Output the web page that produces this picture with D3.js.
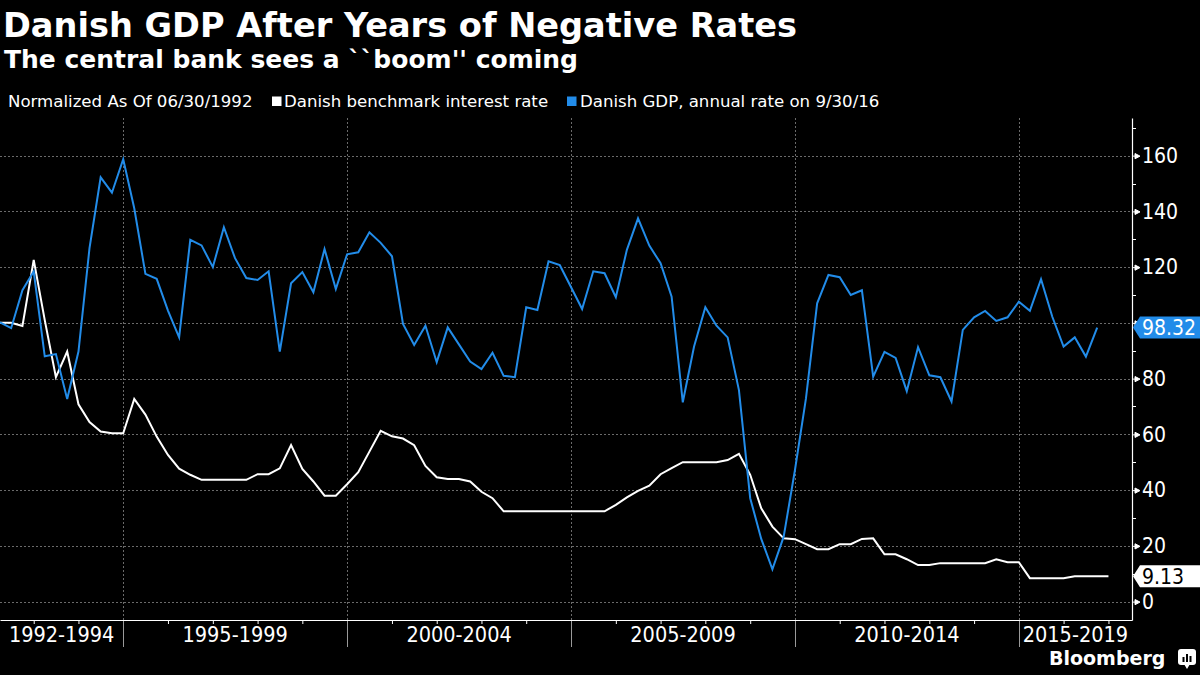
<!DOCTYPE html>
<html>
<head>
<meta charset="utf-8">
<script src="https://cdn.jsdelivr.net/npm/d3@7"></script>
<style>
  html, body { margin: 0; padding: 0; background: #000; }
  svg { display: block; }
</style>
</head>
<body>
<svg id="chart" width="1200" height="675"></svg>
<script>
// ---------------- DATA ----------------
const title = "Danish GDP After Years of Negative Rates";
const subtitle = "The central bank sees a ``boom'' coming";
const legendNote = "Normalized As Of 06/30/1992";
const seriesNames = ["Danish benchmark interest rate", "Danish GDP, annual rate on 9/30/16"];

// quarterly observations, first quarter = 1992 Q1
const firstQuarter = [1992, 1];

// Danish benchmark interest rate (normalized), 1992Q1 .. 2016Q4
const rateValues = [
  100.0, 100.0, 98.9, 122.6, 101.0, 80.5, 89.7, 70.8, 64.4, 61.0,
  60.4, 60.4, 72.7, 67.1, 59.2, 52.6, 47.7, 45.5, 43.7, 43.7,
  43.7, 43.7, 43.7, 45.7, 45.7, 47.8, 56.2, 47.6, 43.1, 38.0,
  38.0, 42.1, 46.4, 53.8, 61.3, 59.3, 58.5, 56.1, 48.7, 44.6,
  44.0, 44.0, 43.1, 39.4, 37.1, 32.4, 32.4, 32.4, 32.4, 32.4,
  32.4, 32.4, 32.4, 32.4, 32.4, 34.7, 37.4, 39.7, 41.6, 45.7,
  47.9, 50.0, 50.0, 50.0, 50.0, 50.8, 53.0, 45.5, 33.5, 26.9,
  22.7, 22.4, 20.6, 18.8, 18.8, 20.6, 20.6, 22.5, 22.7, 17.0,
  17.0, 15.2, 13.1, 13.1, 13.8, 13.8, 13.8, 13.8, 13.8, 15.2,
  14.1, 14.1, 8.4, 8.4, 8.4, 8.4, 9.13, 9.13, 9.13, 9.13
];

// Danish GDP, annual rate (normalized), 1992Q1 .. 2016Q3
const gdpValues = [
  100.2, 98.1, 111.7, 118.4, 88.0, 88.8, 72.7, 89.7, 126.8, 152.2,
  146.7, 158.7, 141.1, 117.6, 115.8, 104.4, 94.8, 129.8, 127.8, 120.0,
  134.3, 123.2, 116.1, 115.4, 118.5, 89.7, 114.2, 118.2, 111.0, 126.5,
  112.1, 124.6, 125.3, 132.5, 128.7, 123.9, 99.6, 92.1, 99.0, 85.9,
  98.4, 92.3, 86.1, 83.4, 89.3, 81.0, 80.5, 105.6, 104.6, 122.1,
  120.7, 112.8, 105.0, 118.5, 117.8, 109.2, 126.2, 137.5, 127.7, 121.4,
  109.4, 71.5, 91.5, 105.6, 99.0, 94.8, 75.9, 37.1, 22.5, 11.6,
  23.3, 47.2, 73.0, 107.0, 117.2, 116.4, 110.0, 111.7, 80.7, 89.6,
  87.4, 75.5, 91.3, 81.2, 80.5, 71.8, 97.5, 102.0, 104.3, 100.7,
  102.0, 107.6, 104.3, 115.7, 102.2, 91.5, 94.8, 87.9, 98.32
];

// x-axis bands (start year, end year exclusive) and labels
const bandLabels = ["1992-1994", "1995-1999", "2000-2004", "2005-2009", "2010-2014", "2015-2019"];
const bandStarts = [1992, 1995, 2000, 2005, 2010, 2015];
const bandEnds   = [1995, 2000, 2005, 2010, 2015, 2020];
const yTickValues = [0, 20, 40, 60, 80, 100, 120, 140, 160];
const yMinorValues = [10, 30, 50, 70, 90, 110, 130, 150, 170];

// ---------------- STYLE ----------------
const BLUE = "#228ce9";
const WHITE = "#ffffff";
const GRID = "#6a6a6a";
const FONT = "'DejaVu Sans', Verdana, sans-serif";
const AXFONT = "'DejaVu Sans Condensed', 'DejaVu Sans', sans-serif";

// ---------------- LAYOUT ----------------
const svg = d3.select("#chart");
const plot = { left: 0, right: 1132, top: 118, bottom: 620 };

// quarter observation dates (first day after each quarter end)
const quarterDate = i => new Date(firstQuarter[0], (firstQuarter[1]) * 3 + i * 3, 1);
const rateData = rateValues.map((v, i) => ({ d: quarterDate(i), v }));
const gdpData = gdpValues.map((v, i) => ({ d: quarterDate(i), v }));

const x = d3.scaleTime()
  .domain([new Date(1992, 3, 1), new Date(2017, 6, 12)])
  .range([plot.left, plot.right]);
const y = d3.scaleLinear()
  .domain([-6.6, 173.5])
  .range([plot.bottom, plot.top]);

svg.append("rect").attr("width", 1200).attr("height", 675).attr("fill", "#000");

// clip
svg.append("defs").append("clipPath").attr("id", "plotclip")
  .append("rect").attr("x", plot.left).attr("y", plot.top)
  .attr("width", plot.right - plot.left).attr("height", plot.bottom - plot.top);

// horizontal gridlines
svg.append("g").selectAll("line").data(yTickValues).join("line")
  .attr("x1", plot.left).attr("x2", plot.right - 2)
  .attr("y1", d => Math.round(y(d)) + 0.5).attr("y2", d => Math.round(y(d)) + 0.5)
  .attr("stroke", GRID).attr("stroke-width", 1).attr("stroke-dasharray", "2,2");

// vertical band separators (gridlines)
const seps = bandStarts.slice(1).map(yr => new Date(yr, 0, 1));
svg.append("g").selectAll("line").data(seps).join("line")
  .attr("x1", d => Math.round(x(d)) + 0.5).attr("x2", d => Math.round(x(d)) + 0.5)
  .attr("y1", plot.top).attr("y2", plot.bottom)
  .attr("stroke", GRID).attr("stroke-width", 1).attr("stroke-dasharray", "2,2");
svg.append("g").selectAll("line").data(seps).join("line")
  .attr("x1", d => Math.round(x(d)) + 0.5).attr("x2", d => Math.round(x(d)) + 0.5)
  .attr("y1", plot.bottom).attr("y2", plot.bottom + 27)
  .attr("stroke", "#9a9a9a").attr("stroke-width", 1);

// x axis: line, yearly minor ticks
const xAxis = d3.axisBottom(x)
  .tickValues(d3.timeYear.range(new Date(1993, 0, 1), new Date(2018, 0, 1))
    .filter(d => !bandStarts.includes(d.getFullYear())))
  .tickSize(4).tickSizeOuter(0).tickFormat("");
const gx = svg.append("g").attr("transform", `translate(0,${plot.bottom})`).call(xAxis);
gx.select(".domain").attr("stroke", WHITE).attr("stroke-width", 1.2);
gx.selectAll(".tick line").attr("stroke", WHITE);

// band labels
const bandG = svg.append("g");
bandLabels.forEach((lab, i) => {
  const x0 = Math.max(plot.left, x(new Date(bandStarts[i], 0, 1)));
  const x1 = Math.min(plot.right, x(new Date(bandEnds[i], 0, 1)));
  const t = bandG.append("text").text(lab)
    .attr("font-family", AXFONT).attr("font-stretch", "condensed")
    .attr("font-size", 21.5).attr("fill", WHITE)
    .attr("y", 642).attr("text-anchor", "middle");
  const w = t.node().getComputedTextLength();
  let cx = (x0 + x1) / 2;
  cx = Math.min(cx, plot.right - w / 2);
  t.attr("x", cx);
});

// last values (shown in tags at the right axis)
const lastGdp = gdpValues[gdpValues.length - 1];
const lastRate = rateValues[rateValues.length - 1];
const TAG_H = 22;
const hiddenByTag = v => [lastGdp, lastRate].some(t => Math.abs(y(v) - y(t)) < TAG_H);

// right y axis
const yAxis = d3.axisRight(y).tickValues(yTickValues).tickSize(0).tickPadding(10)
  .tickFormat(d => hiddenByTag(d) ? "" : d3.format("d")(d));
const gy = svg.append("g").attr("transform", `translate(${plot.right},0)`).call(yAxis);
gy.select(".domain").attr("stroke", WHITE).attr("stroke-width", 1.2);
gy.selectAll(".tick text").attr("font-family", AXFONT).attr("font-stretch", "condensed")
  .attr("font-size", 21).attr("fill", WHITE);
// major tick markers
gy.selectAll(".tick").append("path")
  .attr("d", "M0,0 L4,0 M3,-2.6 L8,0 L3,2.6 Z")
  .attr("stroke", WHITE).attr("stroke-width", 1).attr("fill", WHITE);
// minor ticks
svg.append("g").selectAll("line").data(yMinorValues).join("line")
  .attr("x1", plot.right).attr("x2", plot.right + 4)
  .attr("y1", d => Math.round(y(d)) + 0.5).attr("y2", d => Math.round(y(d)) + 0.5)
  .attr("stroke", WHITE).attr("stroke-width", 1);

// lines
const line = d3.line().x(d => x(d.d)).y(d => y(d.v));
const lines = svg.append("g").attr("clip-path", "url(#plotclip)");
lines.append("path").datum(rateData).attr("d", line)
  .attr("fill", "none").attr("stroke", WHITE).attr("stroke-width", 2).attr("stroke-linejoin", "miter");
lines.append("path").datum(gdpData).attr("d", line)
  .attr("fill", "none").attr("stroke", BLUE).attr("stroke-width", 2).attr("stroke-linejoin", "miter");

// last value tags
function tag(value, fill, textFill) {
  const cy = y(value);
  const h = TAG_H;
  const g = svg.append("g");
  g.append("path")
    .attr("d", `M${plot.right + 1},${cy} L${plot.right + 8},${cy - h / 2} L1200,${cy - h / 2} L1200,${cy + h / 2} L${plot.right + 8},${cy + h / 2} Z`)
    .attr("fill", fill);
  g.append("text").text(value.toFixed(2))
    .attr("x", plot.right + 10).attr("y", cy).attr("dy", "0.36em")
    .attr("font-family", AXFONT).attr("font-stretch", "condensed")
    .attr("font-size", 21).attr("fill", textFill);
}
tag(lastGdp, BLUE, WHITE);
tag(lastRate, WHITE, "#000");

// title & subtitle
svg.append("text").text(title).attr("x", 3).attr("y", 37)
  .attr("font-family", FONT).attr("font-weight", "bold").attr("font-size", 33.6).attr("fill", WHITE);
svg.append("text").text(subtitle).attr("x", 4).attr("y", 68)
  .attr("font-family", FONT).attr("font-weight", "bold").attr("font-size", 25).attr("fill", WHITE);

// legend
const lg = svg.append("g").attr("font-family", FONT).attr("font-size", 16.6).attr("fill", WHITE);
lg.append("text").text(legendNote).attr("x", 8).attr("y", 106.5);
lg.append("rect").attr("x", 272).attr("y", 96.5).attr("width", 9.5).attr("height", 9.5).attr("fill", WHITE);
lg.append("text").text(seriesNames[0]).attr("x", 284).attr("y", 106.5);
lg.append("rect").attr("x", 567).attr("y", 96.5).attr("width", 9.5).attr("height", 9.5).attr("fill", BLUE);
lg.append("text").text(seriesNames[1]).attr("x", 580).attr("y", 106.5);

// Bloomberg brand
svg.append("text").text("Bloomberg").attr("x", 1049).attr("y", 665)
  .attr("font-family", FONT).attr("font-weight", "bold").attr("font-size", 19).attr("fill", WHITE);
const logo = svg.append("g").attr("transform", "translate(1178,649)");
logo.append("rect").attr("width", 18).attr("height", 16).attr("rx", 3).attr("fill", WHITE);
logo.append("path").attr("d", "M6,15 L9,20 L12,15 Z").attr("fill", WHITE);
logo.append("rect").attr("x", 4.5).attr("y", 8).attr("width", 2).attr("height", 5).attr("fill", "#000");
logo.append("rect").attr("x", 8).attr("y", 5).attr("width", 2).attr("height", 8).attr("fill", "#000");
logo.append("rect").attr("x", 11.5).attr("y", 7).attr("width", 2).attr("height", 6).attr("fill", "#000");
</script>
</body>
</html>
